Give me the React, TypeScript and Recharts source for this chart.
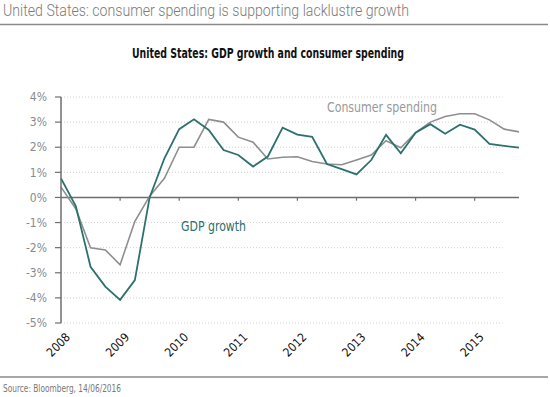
import React from 'react';
import { LineChart, Line, XAxis, YAxis, ReferenceLine } from 'recharts';

const quarterIndex = [0,1,2,3,4,5,6,7,8,9,10,11,12,13,14,15,16,17,18,19,20,21,22,23,24,25,26,27,28,29,30,31];
const gdpGrowth = [0.76,-0.34,-2.76,-3.55,-4.08,-3.29,0.0,1.56,2.72,3.11,2.69,1.89,1.69,1.23,1.63,2.78,2.5,2.41,1.33,1.13,0.92,1.49,2.49,1.76,2.58,2.92,2.54,2.9,2.7,2.13,2.05,1.98];
const consumerSpending = [0.41,-0.45,-2.0,-2.09,-2.68,-0.95,0.05,0.76,2.0,2.0,3.11,3.0,2.4,2.2,1.53,1.6,1.62,1.43,1.33,1.3,1.49,1.69,2.26,1.98,2.58,3.0,3.22,3.33,3.33,3.09,2.72,2.61];
const yearLabels = ['2008','2009','2010','2011','2012','2013','2014','2015'];
const yearTicks = [0,4,8,12,16,20,24,28];
const yTicks = [-5,-4,-3,-2,-1,0,1,2,3,4];

const data = quarterIndex.map((i, k) => ({ i, gdp: gdpGrowth[k], cons: consumerSpending[k] }));

const COND = "'Liberation Sans Narrow', 'DejaVu Sans Condensed', Roboto, sans-serif";
const TEAL = '#2b716e';
const GREY = '#8e8e8e';

const XTick = (props: any) => {
  const { x, y, payload } = props;
  const idx = yearTicks.indexOf(payload.value);
  return (
    <g transform={`translate(${x + 7},${y + 4})`}>
      <text transform="rotate(-45)" textAnchor="end" dy="0.35em" fill="#111" fontSize={12} fontFamily={COND}>
        {yearLabels[idx]}
      </text>
    </g>
  );
};

export default function App() {
  return (
    <div style={{ position: 'absolute', left: 0, top: 0, width: 550, height: 397, background: '#fff' }}>
      <svg width={550} height={397} style={{ position: 'absolute', left: 0, top: 0 }}>
        <text x={3} y={15.5} fontSize={16} fill="#7a7a7a" fontFamily="Roboto, sans-serif" fontWeight={300} textLength={406} lengthAdjust="spacingAndGlyphs">
          United States: consumer spending is supporting lacklustre growth
        </text>
        <line x1={0} x2={548} y1={24.5} y2={24.5} stroke="#8a8a8a" strokeWidth={1.5} />
        <text x={132} y={58} fontSize={14} fill="#111" fontWeight={700} fontFamily={COND} textLength={272} lengthAdjust="spacingAndGlyphs">
          United States: GDP growth and consumer spending
        </text>
        <line x1={0} x2={548} y1={377} y2={377} stroke="#8a8a8a" strokeWidth={1.5} />
        <text x={3} y={392} fontSize={10} fill="#777" fontFamily={COND} textLength={118} lengthAdjust="spacingAndGlyphs">
          Source: Bloomberg, 14/06/2016
        </text>
      </svg>
      <div style={{ position: 'absolute', left: 0, top: 0 }}>
        <LineChart width={550} height={397} data={data} margin={{ top: 97, right: 31, bottom: 44, left: 0 }}>
          <XAxis
            dataKey="i"
            type="number"
            domain={[0, 31]}
            ticks={yearTicks}
            tick={<XTick />}
            axisLine={false}
            tickLine={false}
            height={30}
            interval={0}
          />
          <YAxis
            type="number"
            domain={[-5, 4]}
            ticks={yTicks}
            interval={0}
            width={61}
            tickSize={6}
            tickMargin={8}
            tickFormatter={(v: number) => `${v}%`}
            tick={{ fill: '#8a8a8a', fontSize: 12, fontFamily: COND }}
            axisLine={{ stroke: '#6e6e6e', strokeWidth: 1.5 }}
            tickLine={{ stroke: '#6e6e6e', strokeWidth: 1.2 }}
          />
          {yTicks.filter((v) => v !== 0).map((v) => (
            <ReferenceLine
              key={`g${v}`}
              segment={[{ x: 0, y: v }, { x: 29.9, y: v }]}
              stroke="#d0d0d0"
              strokeDasharray="1 2"
              strokeWidth={1}
            />
          ))}
          <ReferenceLine segment={[{ x: 0, y: 0 }, { x: 31, y: 0 }]} stroke="#6e6e6e" strokeWidth={1.5} />
          {yearTicks.filter((t) => t !== 0).map((t) => (
            <ReferenceLine key={`t${t}`} segment={[{ x: t, y: 0 }, { x: t, y: -0.13 }]} stroke="#6e6e6e" strokeWidth={1.2} />
          ))}
          <Line type="linear" dataKey="cons" stroke={GREY} strokeWidth={1.6} dot={false} isAnimationActive={false} />
          <Line type="linear" dataKey="gdp" stroke={TEAL} strokeWidth={1.8} dot={false} isAnimationActive={false} />
        </LineChart>
      </div>
      <svg width={550} height={397} style={{ position: 'absolute', left: 0, top: 0, pointerEvents: 'none' }}>
        <text x={327} y={112} fontSize={14} fill="#999" fontFamily={COND} textLength={110} lengthAdjust="spacingAndGlyphs">
          Consumer spending
        </text>
        <text x={181} y={231} fontSize={14} fill={TEAL} fontFamily={COND} textLength={65} lengthAdjust="spacingAndGlyphs">
          GDP growth
        </text>
      </svg>
    </div>
  );
}
